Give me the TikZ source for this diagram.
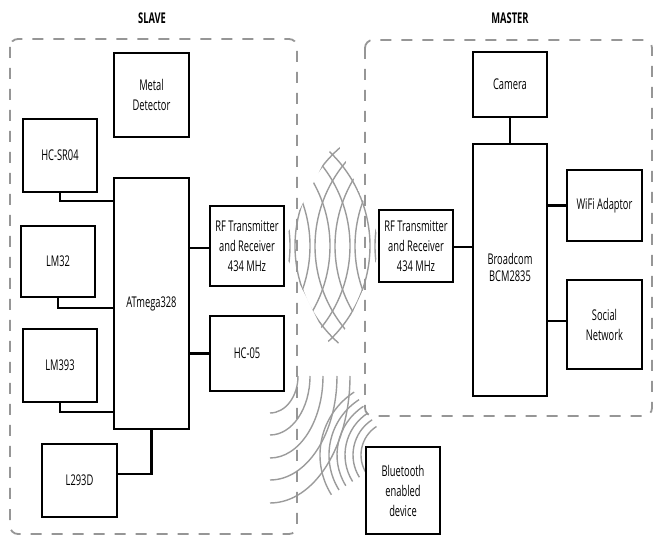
\documentclass[tikz,border=0pt]{standalone}
\usepackage{fontspec}
\setmainfont{Open Sans}[FakeStretch=0.63]
\definecolor{dashgray}{RGB}{150,150,150}
\definecolor{wavegray}{RGB}{155,155,155}
\begin{document}
\begin{tikzpicture}[x=1pt,y=-1pt,
  blk/.style={draw=black,line width=2.3pt,fill=white,inner sep=0pt,align=center,
    font=\fontsize{14.8}{20}\selectfont},
  conn/.style={draw=black,line width=2.2pt},
  region/.style={draw=dashgray,line width=1.8pt,dash pattern=on 11pt off 10pt,rounded corners=8pt},
  wave/.style={draw=wavegray,line width=1.4pt},
  ttl/.style={font=\fontsize{14.8}{20}\selectfont\bfseries,inner sep=0pt}]
\useasboundingbox (0,0) rectangle (654,537);

% ---- RF waves ----
\begin{scope}
  \clip (281,246) -- (336,139) -- (383,246) -- (334,353) -- cycle;
  \foreach \m in {290,310,330,350,370}{
    \draw[wave] ([shift={(\m-130,246)}]-50:130) arc[start angle=-50,end angle=50,radius=130];
  }
  \foreach \m in {295,315,335,355,375}{
    \draw[wave] ([shift={(\m+130,246)}]130:130) arc[start angle=130,end angle=230,radius=130];
  }
\end{scope}

% ---- Bluetooth waves ----
\foreach \a/\b in {28/37,40/59,53/82,67/104,80/127}{
  \draw[wave] (270+\a,376) arc[start angle=0,end angle=90,x radius=\a,y radius=\b];
}
\foreach \r in {34,42,50,58,66,75}{
  \draw[wave] ([shift={(395,455)}]148:\r) arc[start angle=148,end angle=237,radius=\r];
}

% ---- regions ----
\draw[region] (10,39) rectangle (297,534);
\draw[region] (365,40) rectangle (652,416);
\node[ttl] (slave) at (152,18) {SLAVE};
\node[ttl] (master) at (510,18) {MASTER};

% ---- slave blocks ----
\node[blk,minimum width=75pt,minimum height=84pt] (metal) at (151.5,95) {Metal\\Detector};
\node[blk,minimum width=74pt,minimum height=73pt] (hcsr) at (60,155.5) {HC-SR04};
\node[blk,minimum width=75pt,minimum height=251pt] (atmega) at (151.5,303.5) {ATmega328};
\node[blk,minimum width=74pt,minimum height=80pt] (rfl) at (247,246) {RF Transmitter\\and Receiver\\434 MHz};
\node[blk,minimum width=74pt,minimum height=71pt] (lm32) at (58,261.5) {LM32};
\node[blk,minimum width=74pt,minimum height=73pt] (lm393) at (60,365.5) {LM393};
\node[blk,minimum width=74pt,minimum height=75pt] (hc05) at (247,353.5) {HC-05};
\node[blk,minimum width=75pt,minimum height=73pt] (l293d) at (79.5,480.5) {L293D};

% ---- master blocks ----
\node[blk,minimum width=74pt,minimum height=65pt] (camera) at (510,84.5) {Camera};
\node[blk,minimum width=74pt,minimum height=252pt] (bcm) at (510,270) {\raisebox{6pt}{\shortstack{Broadcom\\[3pt]BCM2835}}};
\node[blk,minimum width=75pt,minimum height=71pt] (wifi) at (604.5,205.5) {WiFi Adaptor};
\node[blk,minimum width=74pt,minimum height=72pt] (rfr) at (416,246) {RF Transmitter\\and Receiver\\434 MHz};
\node[blk,minimum width=75pt,minimum height=89pt] (social) at (604.5,324.5) {Social\\Network};
\node[blk,minimum width=74pt,minimum height=87pt] (bt) at (403,490.5) {Bluetooth\\enabled\\device};

% ---- connectors ----
\draw[conn] (hcsr.south) |- (atmega.west |- 0,201);
\draw[conn] (lm32.south) |- (atmega.west |- 0,308);
\draw[conn] (lm393.south) |- (atmega.west |- 0,412);
\draw[conn] (atmega.south) |- (l293d.east |- 0,474);
\draw[conn] (rfl.west |- 0,248) -- (atmega.east |- 0,248);
\draw[conn] (hc05.west) -- (atmega.east |- hc05.west);
\draw[conn] (camera.south) -- (bcm.north);
\draw[conn] (rfr.east |- 0,247) -- (bcm.west |- 0,247);
\draw[conn] (wifi.west) -- (bcm.east |- wifi.west);
\draw[conn] (social.west |- 0,321) -- (bcm.east |- 0,321);
\end{tikzpicture}
\end{document}
